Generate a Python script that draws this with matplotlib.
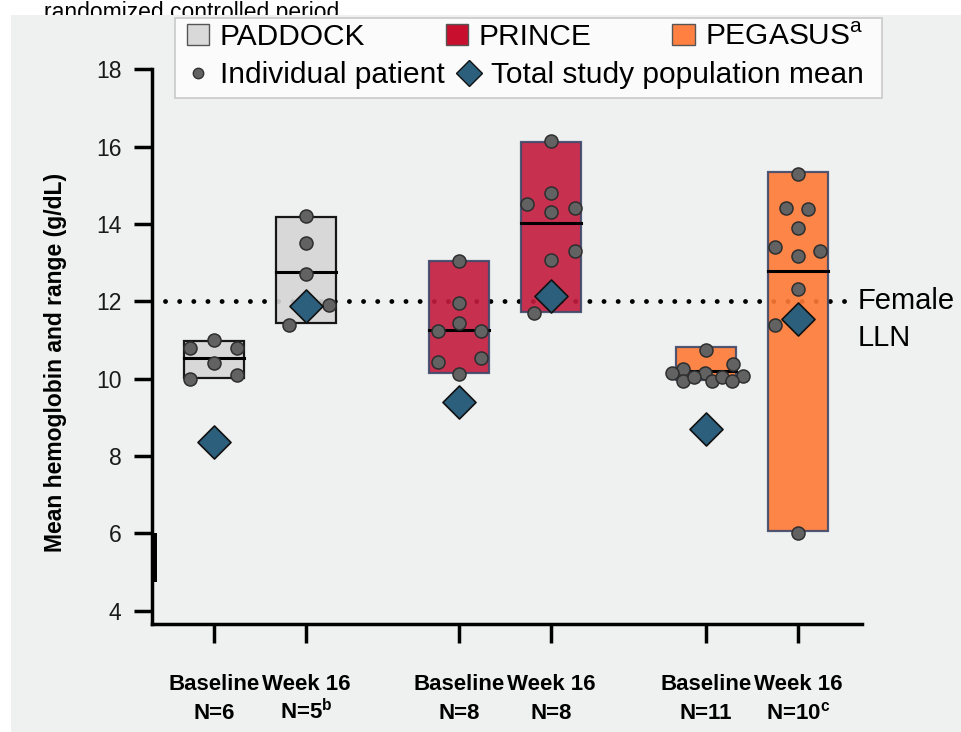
import matplotlib
matplotlib.use("Agg")
import matplotlib.pyplot as plt
from matplotlib.patches import Patch, Rectangle
from matplotlib.lines import Line2D

plt.rcParams['font.family'] = ['Liberation Sans', 'DejaVu Sans']
plt.rcParams['mathtext.fontset'] = 'custom'
plt.rcParams['mathtext.rm'] = 'Liberation Sans'
plt.rcParams['mathtext.bf'] = 'Liberation Sans:bold'

# data (g/dL)
studies = ["PADDOCK", "PRINCE", "PEGASUS"]
visit_labels = ["Baseline", "Week 16", "Baseline", "Week 16", "Baseline", "Week 16"]
n_labels = ["N=6", "N=5$^{\\mathbf{b}}$", "N=8", "N=8", "N=11", "N=10$^{\\mathbf{c}}$"]
box_low = [10.02, 11.44, 10.15, 11.72, 9.97, 6.06]
box_high = [10.98, 14.19, 13.05, 16.11, 10.82, 15.35]
box_mid = [10.53, 12.76, 11.26, 14.03, 10.2, 12.79]
pop_mean = [8.37, 11.88, 9.4, 12.13, 8.7, 11.54]

patients = [
    [11.0, 10.8, 10.8, 10.4, 10.0, 10.1],
    [14.2, 13.5, 12.7, 11.9, 11.4],
    [13.05, 11.95, 11.45, 11.24, 11.24, 10.43, 10.54, 10.12],
    [16.14, 14.8, 14.51, 14.31, 14.41, 13.3, 13.06, 11.7],
    [10.74, 10.38, 10.25, 10.14, 10.15, 10.07, 9.95, 10.05, 9.95, 10.04, 9.95],
    [15.3, 14.41, 14.38, 13.89, 13.4, 13.3, 13.18, 12.31, 11.38, 6.02],
]
female_lln = 12

# layout
positions = [0, 1, 2.663, 3.663, 5.348, 6.348]
jitter = [
    [0, -0.26, 0.25, 0, -0.26, 0.25],
    [0, 0, 0, 0.25, -0.18],
    [0, 0, 0, -0.23, 0.24, -0.23, 0.24, 0],
    [0, 0, -0.26, 0, 0.26, 0.26, 0, -0.18],
    [0, 0.29, -0.25, -0.37, -0.01, 0.40, -0.25, -0.13, 0.07, 0.17, 0.28],
    [0, -0.13, 0.11, 0, -0.25, 0.24, 0, 0, -0.25, 0],
]
box_face = ['#d6d6d6', '#d6d6d6', '#c41b3e', '#c41b3e', '#ff7a35', '#ff7a35']
box_edge = ['black', 'black', '#3d4a6b', '#3d4a6b', '#3d4a6b', '#3d4a6b']
legend_colors = ['#d9d9d9', '#c8102e', '#ff8040']
dot_color = '#626262'
diamond_color = '#2b5f7c'
bg = '#eff0f0'

fig = plt.figure(figsize=(9.61, 7.32), dpi=100, facecolor='white')
fig.text(44 / 961, 1 - 19 / 732, "randomized controlled period", fontsize=16.5,
         va='baseline', zorder=-2)
fig.add_artist(Rectangle((11 / 961, 0), 1, 717 / 732, transform=fig.transFigure,
                         fc=bg, ec='none', zorder=-1))

ax = fig.add_axes([152 / 961, 108 / 732, 710 / 961, 609 / 732])
ax.set_facecolor('none')
ax.set_xlim(-0.674, 7.043)
ax.set_ylim(3.66, 19.4)

ax.plot([-0.53, 6.93], [female_lln, female_lln], color='black', lw=3.5,
        linestyle=(0, (0.01, 2.9)), dash_capstyle='round', zorder=2)

heights = [h - l for h, l in zip(box_high, box_low)]
ax.bar(positions, heights, bottom=box_low, width=0.65, color=box_face,
       edgecolor=box_edge, linewidth=1.6, alpha=0.9, zorder=3)
for p, m in zip(positions, box_mid):
    ax.plot([p - 0.325, p + 0.325], [m, m], color='black', lw=2.2, zorder=3.5)

for p, vals, jit in zip(positions, patients, jitter):
    ax.scatter([p + j for j in jit], vals, s=88, c=dot_color,
               edgecolors='#2e2e2e', linewidths=1.1, zorder=4)
ax.scatter(positions, pop_mean, marker='D', s=283, c=diamond_color,
           edgecolors='#111111', linewidths=1.2, zorder=5)

ax.text(7.0, 12.0, "Female", fontsize=21, va='center', ha='left')
ax.text(7.0, 11.05, "LLN", fontsize=21, va='center', ha='left')

# axes styling
for s in ['top', 'right']:
    ax.spines[s].set_visible(False)
for s in ['left', 'bottom']:
    ax.spines[s].set_linewidth(2.5)
ax.spines['left'].set_bounds(3.66, 18)
ax.plot([0.003, 0.003], [4.75, 6.0], transform=ax.get_yaxis_transform(),
        color='black', lw=4.3, solid_capstyle='butt', clip_on=False)

ax.set_yticks(range(4, 19, 2))
ax.tick_params(axis='y', length=13, width=2.5, pad=9, labelsize=16.5,
               labelcolor='#1a1a1a')
ax.set_xticks(positions, visit_labels)
ax.tick_params(axis='x', length=14, width=2.5, pad=22, labelsize=16)
plt.setp(ax.get_xticklabels(), fontweight='bold')
for p, lab in zip(positions, n_labels):
    ax.text(p, -0.156, lab, transform=ax.get_xaxis_transform(), ha='center',
            va='baseline', fontsize=16, fontweight='bold')

ax.set_ylabel("Mean hemoglobin and range (g/dL)", fontsize=16.5, fontweight='bold')
ax.yaxis.set_label_coords(-0.12, 0.43)

# legend
fig.add_artist(Rectangle((175 / 961, 1 - 98 / 732), 707 / 961, 80 / 732,
                         transform=fig.transFigure, fc='#fbfbfb', ec='#c9c9c9',
                         lw=1.2, zorder=1))
study_handles = [Patch(fc=c, ec='#555555', lw=1) for c in legend_colors]
study_labels = ["PADDOCK", "PRINCE", "PEGASUS$^{\\mathrm{a}}$"]
fig.legend(study_handles, study_labels, loc='center left',
           bbox_to_anchor=(187 / 961, 1 - 37 / 732), ncol=3, frameon=False,
           fontsize=21.5, borderpad=0, borderaxespad=0, handlelength=0.75,
           handletextpad=0.35, columnspacing=2.7)
mark_handles = [
    Line2D([], [], ls='none', marker='o', ms=7.5, mfc=dot_color, mec='#333333'),
    Line2D([], [], ls='none', marker='D', ms=13.5, mfc=diamond_color, mec='#111111'),
]
fig.legend(mark_handles, ["Individual patient", "Total study population mean"],
           loc='center left', bbox_to_anchor=(187 / 961, 1 - 75 / 732), ncol=2,
           frameon=False, fontsize=21.5, borderpad=0, borderaxespad=0,
           handlelength=0.75, handletextpad=0.35, columnspacing=0.45)

fig.savefig('out.png', dpi=100)
